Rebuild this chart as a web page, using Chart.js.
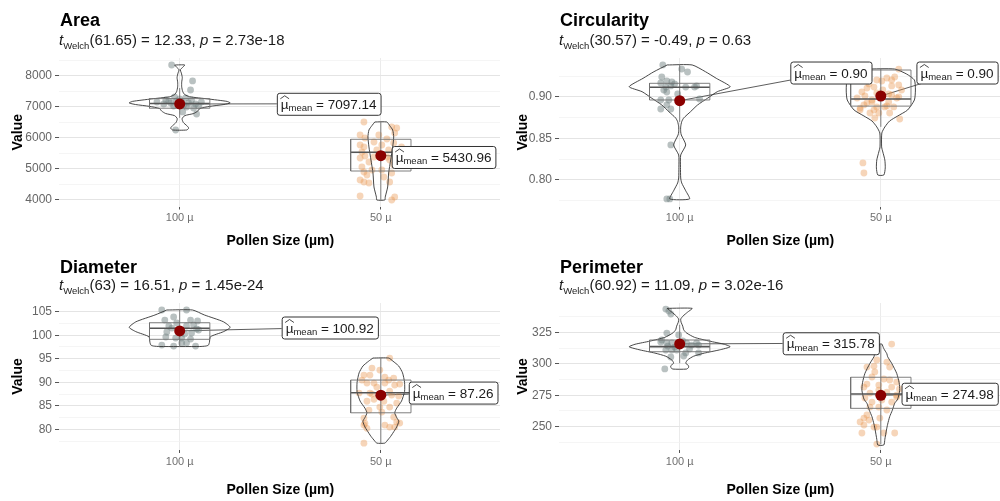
<!DOCTYPE html>
<html>
<head>
<meta charset="utf-8">
<script src="https://cdn.jsdelivr.net/npm/chart.js@4.4.1/dist/chart.umd.min.js"></script>
<style>
  body { margin: 0; background: #fff; }
  #grid { position: relative; width: 1000px; height: 501px; overflow: hidden; background: #fff; }
  .panel { position: absolute; width: 500px; overflow: hidden; }
  canvas { display: block; }
</style>
</head>
<body>
<div id="grid">
  <div class="panel" style="left:0;top:0;height:250px"><canvas id="c-area" width="507" height="250"></canvas></div>
  <div class="panel" style="left:500px;top:0;height:250px"><canvas id="c-circ" width="507" height="250"></canvas></div>
  <div class="panel" style="left:0;top:250px;height:251px"><canvas id="c-diam" width="507" height="251"></canvas></div>
  <div class="panel" style="left:500px;top:250px;height:251px"><canvas id="c-perim" width="507" height="251"></canvas></div>
</div>
<script>
// --- Datos ---

const categories = ["100 µ", "50 µ"];
const panelTitles = ["Area", "Circularity", "Diameter", "Perimeter"];
const welchDf = ["61.65", "30.57", "63", "60.92"];
const welchT = ["12.33", "-0.49", "16.51", "11.09"];
const welchP = ["2.73e-18", "0.63", "1.45e-24", "3.02e-16"];

// puntos: [desplazamiento jitter, valor]; violín: [valor, semi-ancho]; caja: [bigote inf, q1, mediana, q3, bigote sup]
const areaTicks = [4000, 5000, 6000, 7000, 8000];
const areaMeans = [7097.14, 5430.96];
const areaBox100 = [6650, 6960, 7110, 7270, 7610];
const areaBox50 = [4000, 4935, 5539, 5958, 6516];
const areaPts100 = [
  [-0.04, 8355], [0.064, 7839], [0.054, 7548], [0.015, 6839], [0.084, 6774], [-0.02, 6258],
  [-0.069, 7226], [-0.044, 7129], [0.059, 7226], [0.079, 7097], [0.108, 7161], [0.03, 7290],
  [-0.113, 7161], [-0.015, 7194], [0.02, 7064], [-0.03, 7032], [0.044, 7129], [-0.079, 7097],
  [0, 7258], [0.094, 7032], [-0.054, 7194], [0.034, 7000], [-0.025, 7323], [0.01, 7161], [0.069, 6968]
];
const areaPts50 = [
  [-0.084, 6516], [0.054, 6355], [0.079, 6322], [0.069, 6161], [-0.103, 6097], [-0.079, 6000],
  [0.03, 5968], [-0.034, 5871], [-0.103, 5774], [-0.084, 5710], [0.005, 5774], [0.064, 5839],
  [-0.094, 5548], [-0.079, 5419], [-0.103, 5355], [0.044, 5290], [0.03, 5387], [0.064, 5129],
  [-0.094, 5064], [-0.084, 4903], [0.005, 4968], [-0.069, 4806], [0.054, 4871], [-0.103, 4645],
  [-0.084, 4580], [-0.059, 4548], [0.015, 4742], [0.044, 4580], [-0.103, 4129], [0.069, 4097],
  [0.054, 4000], [0.103, 5710], [-0.034, 5387], [-0.02, 5613], [0.074, 5516], [-0.059, 5226],
  [0.039, 5613], [-0.01, 6097], [0.089, 5290], [-0.044, 4968]
];
const areaViolin100 = [
  [8355, 0.025], [8280, 0.015], [8200, 0.003], [8100, 0.008], [7950, 0.013], [7800, 0.010],
  [7650, 0.010], [7500, 0.015], [7400, 0.025], [7330, 0.05], [7260, 0.14], [7180, 0.235],
  [7130, 0.251], [7080, 0.22], [7020, 0.15], [6950, 0.10], [6870, 0.09], [6790, 0.07],
  [6720, 0.025], [6620, 0.012], [6500, 0.018], [6400, 0.035], [6320, 0.045], [6258, 0.035]
];
const areaViolin50 = [
  [6516, 0.030], [6400, 0.044], [6258, 0.059], [6032, 0.064], [5710, 0.059], [5290, 0.049],
  [4871, 0.039], [4419, 0.034], [4097, 0.022], [4000, 0.020]
];

const circTicks = [0.80, 0.85, 0.90];
const circMeans = [0.8955, 0.9012];
const circBox100 = [0.870, 0.8964, 0.9117, 0.9165, 0.9386];
const circBox50 = [0.864, 0.889, 0.8976, 0.9325, 0.9337];
const circPts100 = [
  [-0.084, 0.9386], [0.01, 0.9337], [0.039, 0.9301], [-0.089, 0.9241], [-0.064, 0.9193],
  [-0.039, 0.9181], [-0.094, 0.9169], [-0.069, 0.912], [-0.044, 0.9133], [0.03, 0.912],
  [0.074, 0.912], [0.084, 0.9133], [-0.079, 0.9084], [-0.064, 0.906], [-0.054, 0.8964],
  [-0.094, 0.8964], [0.099, 0.8976], [-0.094, 0.8855], [-0.044, 0.8855], [-0.064, 0.8904],
  [-0.044, 0.8422], [-0.064, 0.7771], [-0.049, 0.7771], [-0.025, 0.9157], [-0.01, 0.9036]
];
const circPts50 = [
  [0.089, 0.9337], [0.069, 0.9241], [0.03, 0.9229], [-0.02, 0.9205], [0.089, 0.9145],
  [0.054, 0.9133], [-0.034, 0.912], [-0.069, 0.9108], [-0.094, 0.906], [-0.02, 0.9048],
  [0.054, 0.9024], [0.089, 0.9], [-0.044, 0.894], [0.039, 0.894], [-0.084, 0.8904],
  [-0.02, 0.888], [0.02, 0.888], [0.064, 0.888], [-0.103, 0.8843], [-0.054, 0.8807],
  [0.044, 0.8807], [-0.03, 0.8747], [0.094, 0.8735], [-0.089, 0.8205], [-0.084, 0.8084],
  [-0.079, 0.9012], [-0.103, 0.8867], [0.005, 0.9193], [0.054, 0.9205], [0.03, 0.8892],
  [-0.034, 0.8843], [0.079, 0.8988], [-0.044, 0.8964], [0.01, 0.9084], [-0.059, 0.9157],
  [0.103, 0.9084], [-0.01, 0.8807], [-0.118, 0.8988], [0.039, 0.9036], [-0.069, 0.8928]
];
const circViolin100 = [
  [0.9386, 0.062], [0.9305, 0.128], [0.9225, 0.182], [0.9124, 0.251], [0.9064, 0.187],
  [0.8984, 0.138], [0.8904, 0.089], [0.8823, 0.054], [0.8747, 0.02], [0.8702, 0.01],
  [0.864, 0.005], [0.858, 0.005], [0.8542, 0.008], [0.8422, 0.03], [0.8301, 0.005],
  [0.815, 0.004], [0.8024, 0.005], [0.7964, 0.01], [0.787, 0.03], [0.7771, 0.049]
];
const circViolin50 = [
  [0.9337, 0.069], [0.9277, 0.128], [0.9205, 0.167], [0.9084, 0.172], [0.8964, 0.167],
  [0.8843, 0.133], [0.8771, 0.084], [0.8711, 0.044], [0.8639, 0.02], [0.8566, 0.005],
  [0.8398, 0.004], [0.8337, 0.01], [0.8241, 0.02], [0.8145, 0.022], [0.806, 0.015]
];

const diamTicks = [80, 85, 90, 95, 100, 105];
const diamMeans = [100.92, 87.26];
const diamBox100 = [97.6, 99.13, 101.47, 102.66, 105.36];
const diamBox50 = [77.06, 83.51, 87.77, 90.47, 95.15];
const diamPts100 = [
  [-0.089, 105.36], [0.034, 105.36], [-0.03, 103.87], [-0.074, 103.23], [0.054, 103.23],
  [0.089, 103.02], [-0.054, 101.96], [0.034, 101.96], [0.069, 102.17], [-0.039, 101.53],
  [0.084, 101.32], [-0.064, 100.68], [0.059, 100.47], [-0.069, 99.62], [-0.02, 99.4],
  [0.01, 99.4], [0.054, 99.19], [-0.089, 97.91], [-0.03, 97.7], [0.01, 98.34],
  [0.034, 98.34], [0.079, 97.7], [0.094, 101.11], [-0.015, 102.6], [0.025, 100.26]
];
const diamPts50 = [
  [0.044, 95.15], [-0.044, 93.02], [-0.005, 92.6], [-0.084, 91.53], [-0.054, 91.53],
  [0.02, 91.11], [0.064, 90.89], [-0.069, 89.83], [-0.034, 89.83], [0.02, 89.83],
  [0.069, 89.4], [0.094, 89.62], [-0.108, 87.7], [-0.054, 87.7], [0.044, 88.13],
  [0.089, 87.06], [-0.034, 86.38], [0.015, 85.96], [-0.079, 81.28], [-0.069, 80.21],
  [0.064, 82.6], [0.079, 81.53], [0.044, 80.47], [0.069, 80.47], [0.094, 81.32],
  [0.02, 80.89], [-0.084, 77.06], [-0.084, 82.38], [-0.084, 80.89], [0.044, 84.72],
  [-0.005, 84.72], [-0.044, 87.49], [-0.02, 88.98], [0.039, 90.47], [-0.094, 90.47],
  [0.054, 87.28], [-0.059, 84.08], [0.079, 85.57], [-0.069, 85.96], [0.005, 83.66]
];
const diamViolin100 = [
  [105.36, 0.064], [104.3, 0.123], [102.87, 0.217], [101.68, 0.251], [100.74, 0.217],
  [99.68, 0.153], [98.5, 0.148], [97.9, 0.143], [97.7, 0.13], [97.6, 0.1]
];
const diamViolin50 = [
  [95.15, 0.039], [94.5, 0.06], [93.45, 0.089], [92, 0.108], [90, 0.118], [88, 0.118],
  [86, 0.103], [84.5, 0.079], [83.5, 0.069], [82.5, 0.079], [81.7, 0.089], [80.5, 0.079],
  [79.8, 0.069], [78.5, 0.049], [77.5, 0.03], [77.06, 0.02]
];

const perimTicks = [250, 275, 300, 325];
const perimMeans = [315.78, 274.98];
const perimBox100 = [300.4, 309.6, 313.6, 318.9, 331];
const perimBox50 = [236.2, 264.6, 276.0, 289.3, 315.7];
const perimPts100 = [
  [-0.069, 343.5], [-0.054, 341.9], [-0.044, 339.5], [-0.064, 324.4], [-0.005, 322.9],
  [-0.094, 317.3], [-0.064, 316.5], [-0.039, 316.5], [0.034, 316.5], [0.059, 314.9],
  [0.084, 316.5], [-0.069, 310.9], [-0.039, 310.9], [0.03, 308.6], [0.094, 308.6],
  [-0.044, 305.4], [-0.074, 295.9], [0.02, 306.2], [-0.015, 310.9], [-0.089, 318.9],
  [-0.025, 313.3], [0.049, 311.7], [0.015, 318.1], [0.094, 314.9], [-0.059, 314.1]
];
const perimPts50 = [
  [0.054, 315.7], [-0.02, 303.0], [0.03, 301.4], [-0.069, 297.4], [0.044, 297.4],
  [-0.044, 289.5], [0.015, 287.9], [0.044, 287.1], [0.079, 285.5], [-0.069, 283.9],
  [-0.01, 283.1], [0.054, 281.5], [-0.054, 276.7], [0.03, 277.5], [0.079, 275.1],
  [-0.044, 269.6], [0.005, 271.2], [0.054, 269.6], [-0.054, 265.6], [-0.01, 265.6],
  [-0.069, 259.3], [-0.084, 256.9], [-0.059, 255.3], [-0.005, 256.9], [-0.02, 249.7],
  [-0.084, 251.3], [-0.034, 249.7], [-0.094, 245.0], [0.015, 245.0], [0.069, 245.0],
  [-0.02, 236.2], [-0.034, 298.2], [-0.084, 281.5], [0.079, 273.6], [-0.103, 253.8],
  [-0.01, 279.1], [0.093, 280.0], [-0.079, 272.8], [0.03, 263.3], [-0.03, 293.5]
];
const perimViolin100 = [
  [344.06, 0.062], [341, 0.039], [338, 0.017], [335.5, 0.005], [333, 0.007], [330, 0.015],
  [327, 0.020], [324.5, 0.034], [321, 0.074], [318, 0.148], [315.5, 0.222], [313.5, 0.251],
  [311, 0.197], [308.5, 0.123], [306, 0.069], [303, 0.039], [300.5, 0.030], [298.5, 0.044],
  [297, 0.044], [295.8, 0.034]
];
const perimViolin50 = [
  [315.7, 0.005], [312, 0.015], [308, 0.030], [305.6, 0.034], [300.4, 0.054], [292.4, 0.079],
  [285, 0.091], [279, 0.094], [272, 0.084], [268.6, 0.069], [263, 0.057], [258, 0.044],
  [252, 0.034], [247.4, 0.028], [240, 0.020], [235.5, 0.015]
];

// --- Estilo ---

const FONT = '"Liberation Sans", Arial, Helvetica, sans-serif';
const COL_100 = "rgba(115,132,132,0.5)";
const COL_50 = "rgba(232,150,80,0.4)";
const COL_MEAN = "#8b0000";
const COL_VIOLIN = "#333333";
const COL_BOX = "#707070";

// --- Helpers ---

function toPoints(cx, pts) {
  return pts.map(([dx, v]) => ({ x: cx + dx, y: v }));
}

function violinPath(cx, outline) {
  const left = outline.map(([v, hw]) => ({ x: cx - hw, y: v }));
  const right = outline.slice().reverse().map(([v, hw]) => ({ x: cx + hw, y: v }));
  return left.concat(right, [left[0]]);
}

function boxRect(cx, b) {
  const hw = 0.15;
  return [
    { x: cx - hw, y: b[1] }, { x: cx + hw, y: b[1] }, { x: cx + hw, y: b[3] },
    { x: cx - hw, y: b[3] }, { x: cx - hw, y: b[1] }
  ];
}

function lineDs(data, color, width, order, tension) {
  return {
    type: "scatter", data, showLine: true, borderColor: color, borderWidth: width,
    pointRadius: 0, fill: false, tension: tension || 0, order
  };
}

function segmentEnd(px, py, r) {
  // punto donde el segmento (punto -> centro de la etiqueta) toca el borde
  const cx = r.x + r.w / 2, cy = r.y + r.h / 2;
  const dx = cx - px, dy = cy - py;
  let best = null;
  const tryT = (t) => {
    if (t <= 0 || t > 1) return;
    const x = px + dx * t, y = py + dy * t;
    if (x >= r.x - 0.01 && x <= r.x + r.w + 0.01 && y >= r.y - 0.01 && y <= r.y + r.h + 0.01) {
      if (!best || t < best.t) best = { t, x, y };
    }
  };
  if (dx) { tryT((r.x - px) / dx); tryT((r.x + r.w - px) / dx); }
  if (dy) { tryT((r.y - py) / dy); tryT((r.y + r.h - py) / dy); }
  return best;
}

function labelRect(ctx, x0, cy, text) {
  ctx.font = `13.5px ${FONT}`;
  const wMu = ctx.measureText("µ").width;
  const wVal = ctx.measureText(" = " + text).width;
  ctx.font = `9.5px ${FONT}`;
  const wSub = ctx.measureText("mean").width;
  const pad = 4;
  return { x: x0, y: cy - 11, w: pad + wMu + wSub + wVal + pad, h: 22, wMu, wSub, pad };
}

function drawLabel(ctx, r, text) {
  ctx.save();
  ctx.fillStyle = "#fff";
  ctx.strokeStyle = "#333";
  ctx.lineWidth = 1;
  ctx.beginPath();
  ctx.roundRect(r.x + 0.5, r.y + 0.5, r.w, r.h, 2.5);
  ctx.fill();
  ctx.stroke();

  const base = r.y + r.h / 2 + 5;
  let x = r.x + r.pad;
  ctx.fillStyle = "#1a1a1a";
  ctx.textBaseline = "alphabetic";
  ctx.textAlign = "left";
  ctx.font = `13.5px ${FONT}`;
  ctx.fillText("µ", x, base);
  // sombrero sobre mu
  ctx.beginPath();
  ctx.lineWidth = 0.8;
  ctx.strokeStyle = "#1a1a1a";
  ctx.moveTo(x - 0.5, base - 10);
  ctx.lineTo(x + r.wMu / 2, base - 13);
  ctx.lineTo(x + r.wMu + 0.5, base - 10);
  ctx.stroke();
  x += r.wMu;
  ctx.font = `9.5px ${FONT}`;
  ctx.fillText("mean", x, base + 2.5);
  x += r.wSub;
  ctx.font = `13.5px ${FONT}`;
  ctx.fillText(" = " + text, x, base);
  ctx.restore();
}

// --- Panel ---

function makePanel(p) {
  const step = (p.ticks[1] - p.ticks[0]) / 2;
  const isMajor = (v) => p.ticks.some(m => Math.abs(m - v) < step * 1e-3);
  const yTicks = [];
  for (let k = Math.ceil(p.yMin / step); k * step <= p.yMax; k++) {
    yTicks.push(+(k * step).toFixed(6));
  }

  const datasets = [
    { type: "scatter", data: [{ x: 1, y: p.means[0] }, { x: 2, y: p.means[1] }],
      pointRadius: 5.5, pointBackgroundColor: COL_MEAN, pointBorderWidth: 0, order: 0 },
    lineDs(boxRect(1, p.box100), COL_BOX, 0.9, 1),
    lineDs(boxRect(2, p.box50), COL_BOX, 0.9, 1),
    lineDs([{ x: 0.85, y: p.box100[2] }, { x: 1.15, y: p.box100[2] }], "#555", 1.6, 1),
    lineDs([{ x: 1.85, y: p.box50[2] }, { x: 2.15, y: p.box50[2] }], "#555", 1.6, 1),
    lineDs([{ x: 1, y: p.box100[0] }, { x: 1, y: p.box100[4] }], COL_BOX, 0.9, 1),
    lineDs([{ x: 2, y: p.box50[0] }, { x: 2, y: p.box50[4] }], COL_BOX, 0.9, 1),
    lineDs(violinPath(1, p.violin100), COL_VIOLIN, 0.9, 2, 0.2),
    lineDs(violinPath(2, p.violin50), COL_VIOLIN, 0.9, 2, 0.2),
    { type: "scatter", data: toPoints(1, p.pts100), pointRadius: 3.4,
      pointBackgroundColor: COL_100, pointBorderWidth: 0, order: 3 },
    { type: "scatter", data: toPoints(2, p.pts50), pointRadius: 3.4,
      pointBackgroundColor: COL_50, pointBorderWidth: 0, order: 3 },
  ];

  const labelsPlugin = {
    id: "meanLabels",
    beforeDatasetsDraw(chart) {
      const { ctx, scales: { x, y } } = chart;
      ctx.save();
      ctx.strokeStyle = "#333";
      ctx.lineWidth = 0.8;
      [0, 1].forEach(i => {
        const px = x.getPixelForValue(i + 1), py = y.getPixelForValue(p.means[i]);
        const r = labelRect(ctx, x.getPixelForValue(p.anchors[i][0]), y.getPixelForValue(p.anchors[i][1]),
          p.means[i].toFixed(2));
        const end = segmentEnd(px, py, r);
        if (!end) return;
        ctx.beginPath();
        ctx.moveTo(px, py);
        ctx.lineTo(end.x, end.y);
        ctx.stroke();
      });
      ctx.restore();
    },
    afterDatasetsDraw(chart) {
      const { ctx, scales: { x, y } } = chart;
      [0, 1].forEach(i => {
        const txt = p.means[i].toFixed(2);
        const r = labelRect(ctx, x.getPixelForValue(p.anchors[i][0]), y.getPixelForValue(p.anchors[i][1]), txt);
        drawLabel(ctx, r, txt);
      });
    },
  };

  const headerPlugin = {
    id: "header",
    afterDraw(chart) {
      const ctx = chart.ctx;
      ctx.save();
      ctx.textAlign = "left";
      ctx.textBaseline = "alphabetic";
      ctx.fillStyle = "#000";
      ctx.font = `bold 18px ${FONT}`;
      ctx.fillText(panelTitles[p.idx], 60, p.titleBase);

      ctx.fillStyle = "#1a1a1a";
      let xx = 59;
      const part = (txt, font, dy) => {
        ctx.font = font;
        ctx.fillText(txt, xx, p.subBase + (dy || 0));
        xx += ctx.measureText(txt).width;
      };
      part("t", `italic 15px ${FONT}`);
      part("Welch", `9.5px ${FONT}`, 3.5);
      part(`(${welchDf[p.idx]}) = ${welchT[p.idx]}, `, `15px ${FONT}`);
      part("p", `italic 15px ${FONT}`);
      part(` = ${welchP[p.idx]}`, `15px ${FONT}`);
      ctx.restore();
    },
  };

  const canvas = document.getElementById(p.canvas);
  const h = canvas.height;

  return new Chart(canvas, {
    type: "scatter",
    data: { datasets },
    options: {
      responsive: false,
      animation: false,
      events: [],
      layout: { padding: { top: p.plotTop, left: 0, right: 0, bottom: 0 } },
      plugins: { legend: { display: false }, tooltip: { enabled: false }, title: { display: false } },
      scales: {
        x: {
          type: "linear",
          min: 0.4,
          max: 2.6,
          afterBuildTicks: (s) => { s.ticks = [{ value: 1 }, { value: 2 }]; },
          afterFit: (s) => { s.height = h - p.plotBottom; },
          ticks: {
            autoSkip: false,
            padding: 2,
            color: "#707070",
            font: { family: FONT, size: 11 },
            callback: (v) => categories[Math.round(v) - 1],
          },
          grid: { color: "#ebebeb", lineWidth: 1, tickLength: 3, tickColor: "#555" },
          border: { display: false },
          title: {
            display: true,
            text: "Pollen Size (µm)",
            color: "#000",
            font: { family: FONT, size: 14, weight: "bold" },
            padding: { top: 0, bottom: p.xTitlePad },
          },
        },
        y: {
          type: "linear",
          min: p.yMin,
          max: p.yMax,
          afterBuildTicks: (s) => { s.ticks = yTicks.map(v => ({ value: v })); },
          afterFit: (s) => { s.width = 59; },
          ticks: {
            autoSkip: false,
            padding: 3,
            color: "#666",
            font: { family: FONT, size: 12 },
            callback: (v) => (isMajor(v) ? v.toFixed(p.decimals) : ""),
          },
          grid: {
            color: (c) => (c.tick && isMajor(c.tick.value) ? "#e4e4e4" : "#f1f1f1"),
            lineWidth: (c) => (c.tick && isMajor(c.tick.value) ? 1 : 0.7),
            tickLength: 4,
            tickColor: (c) => (c.tick && isMajor(c.tick.value) ? "#555" : "rgba(0,0,0,0)"),
          },
          border: { display: false },
          title: {
            display: true,
            text: "Value",
            color: "#000",
            font: { family: FONT, size: 14, weight: "bold" },
            padding: { top: p.yTitlePad, bottom: 0 },
          },
        },
      },
    },
    plugins: [labelsPlugin, headerPlugin],
  });
}

makePanel({
  idx: 0, canvas: "c-area", plotTop: 58, plotBottom: 206.5, titleBase: 26, subBase: 45,
  yTitlePad: 9.6, xTitlePad: 0, yMin: 3790, yMax: 8580, decimals: 0,
  ticks: areaTicks, means: areaMeans, box100: areaBox100, box50: areaBox50,
  pts100: areaPts100, pts50: areaPts50, violin100: areaViolin100, violin50: areaViolin50,
  anchors: [[1.483, 7103], [2.054, 5387]],
});

makePanel({
  idx: 1, canvas: "c-circ", plotTop: 58, plotBottom: 206.5, titleBase: 26, subBase: 45,
  yTitlePad: 14.6, xTitlePad: 0, yMin: 0.768, yMax: 0.947, decimals: 2,
  ticks: circTicks, means: circMeans, box100: circBox100, box50: circBox50,
  pts100: circPts100, pts50: circPts50, violin100: circViolin100, violin50: circViolin50,
  anchors: [[1.55, 0.9295], [2.177, 0.9295]],
});

makePanel({
  idx: 2, canvas: "c-diam", plotTop: 53, plotBottom: 200, titleBase: 22.5, subBase: 40,
  yTitlePad: 9.6, xTitlePad: 2.6, yMin: 75.6, yMax: 106.85, decimals: 0,
  ticks: diamTicks, means: diamMeans, box100: diamBox100, box50: diamBox50,
  pts100: diamPts100, pts50: diamPts50, violin100: diamViolin100, violin50: diamViolin50,
  anchors: [[1.507, 101.64], [2.139, 87.81]],
});

makePanel({
  idx: 3, canvas: "c-perim", plotTop: 53, plotBottom: 200, titleBase: 22.5, subBase: 40,
  yTitlePad: 14.6, xTitlePad: 2.6, yMin: 231.5, yMax: 348.3, decimals: 0,
  ticks: perimTicks, means: perimMeans, box100: perimBox100, box50: perimBox50,
  pts100: perimPts100, pts50: perimPts50, violin100: perimViolin100, violin50: perimViolin50,
  anchors: [[1.512, 316.3], [2.103, 276.2]],
});
</script>
</body>
</html>
